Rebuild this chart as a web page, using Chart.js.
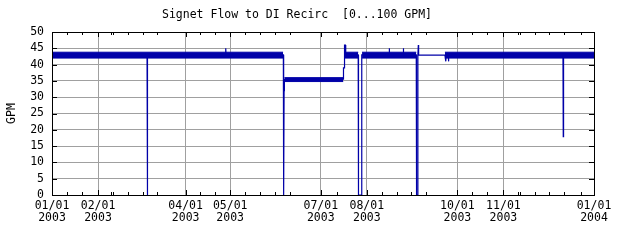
<!DOCTYPE html>
<html>
<head>
<meta charset="UTF-8">
<title>Signet Flow to DI Recirc</title>
<script src="https://cdn.jsdelivr.net/npm/chart.js"></script>
<style>
  html, body { margin: 0; padding: 0; background: #fff; }
  #wrap { width: 640px; height: 240px; }
</style>
</head>
<body>
<div id="wrap"><canvas id="flowChart" width="640" height="240"></canvas></div>
<script>
// x axis is "days since 01/01/2003"
const xMajor = [0, 31, 90, 120, 181, 212, 273, 304, 365];
const xLabels = [['01/01', '2003'], ['02/01', '2003'], ['04/01', '2003'], ['05/01', '2003'],
                 ['07/01', '2003'], ['08/01', '2003'], ['10/01', '2003'], ['11/01', '2003'], ['01/01', '2004']];
const xMinor = [10, 20, 40, 41, 51, 61, 71, 100, 110, 130, 140, 150, 160, 192, 222, 232, 242, 252,
                283, 293, 314, 315, 325, 335, 345, 356];
const yTicks = [0, 5, 10, 15, 20, 25, 30, 35, 40, 45, 50];

// noisy bands of the flow reading (low / high edge of each stretch)
const bandStart = [0, 156.5, 197.3, 208.8, 264.6];
const bandEnd   = [155.6, 196.1, 206.2, 245.3, 365];
const bandLow   = [42, 34.8, 42, 42, 42];
const bandHigh  = [43.8, 36, 43.8, 43.8, 43.8];

// single trace: drops, spikes and steps
const lineDays = [0, 64.0, 64.2, 64.4, 116.9, 117.0, 117.2, 155.8, 156.0, 156.3, 156.5, 196.1, 196.3, 196.9, 197.0, 197.6,
                  197.8, 206.2, 206.4, 208.4, 208.6, 227.0, 227.1, 227.3, 236.5, 236.6, 236.8, 245.3, 245.5, 246.1, 246.4,
                  246.7, 246.9, 264.6, 265.2, 265.4, 266.8, 267.0, 267.2, 344.1, 344.3, 344.5, 365];
const lineFlow = [43, 43, 0, 43, 43, 45, 43, 43, 0, 32, 35.5, 35.5, 39, 39, 46, 46,
                  43, 43, 0, 0, 43, 43, 45, 43, 43, 45, 43, 43, 0, 0, 43,
                  46, 42.9, 42.9, 41, 43, 43, 41, 43, 43, 17.9, 43, 43];

const blue = '#0000a8';
const monoFont = 'DejaVu Sans Mono';

const datasets = [];
bandStart.forEach((s, i) => {
    datasets.push({
        data: [{x: s, y: bandHigh[i]}, {x: bandEnd[i], y: bandHigh[i]}],
        borderColor: blue, backgroundColor: blue, borderWidth: 1, pointRadius: 0, fill: '+1'
    });
    datasets.push({
        data: [{x: s, y: bandLow[i]}, {x: bandEnd[i], y: bandLow[i]}],
        borderColor: blue, backgroundColor: blue, borderWidth: 1, pointRadius: 0, fill: false
    });
});
datasets.push({
    data: lineDays.map((d, i) => ({x: d, y: lineFlow[i]})),
    borderColor: blue, borderWidth: 1.2, pointRadius: 0, fill: false, tension: 0
});

// frame box + inward ticks like the original plot
const framePlugin = {
    id: 'frame',
    afterDatasetsDraw(chart) {
        const {ctx, chartArea: a, scales: {x, y}} = chart;
        ctx.save();
        ctx.strokeStyle = '#000';
        ctx.lineWidth = 1;
        ctx.beginPath();
        yTicks.forEach(v => {
            const p = Math.round(y.getPixelForValue(v)) + 0.5;
            ctx.moveTo(a.left, p); ctx.lineTo(a.left + 5, p);
            ctx.moveTo(a.right, p); ctx.lineTo(a.right - 5, p);
        });
        xMajor.forEach(v => {
            const p = Math.round(x.getPixelForValue(v)) + 0.5;
            ctx.moveTo(p, a.top); ctx.lineTo(p, a.top + 5);
            ctx.moveTo(p, a.bottom); ctx.lineTo(p, a.bottom - 5);
        });
        xMinor.forEach(v => {
            const p = Math.round(x.getPixelForValue(v)) + 0.5;
            ctx.moveTo(p, a.top); ctx.lineTo(p, a.top + 3);
            ctx.moveTo(p, a.bottom); ctx.lineTo(p, a.bottom - 3);
        });
        ctx.stroke();
        ctx.strokeRect(Math.round(a.left) + 0.5, Math.round(a.top) + 0.5,
                       Math.round(a.right - a.left), Math.round(a.bottom - a.top));
        ctx.restore();
    }
};

new Chart(document.getElementById('flowChart'), {
    type: 'line',
    data: {datasets},
    options: {
        responsive: false,
        animation: false,
        layout: {padding: {left: 0, right: 46, top: 0, bottom: 0}},
        scales: {
            x: {
                type: 'linear', min: 0, max: 365,
                afterBuildTicks: s => { s.ticks = xMajor.map(v => ({value: v})); },
                afterFit: s => { s.height = 45; },
                ticks: {
                    autoSkip: false, maxRotation: 0, padding: 5, color: '#000',
                    font: {family: monoFont, size: 11.5, lineHeight: 1.05},
                    callback: (v, i) => xLabels[i]
                },
                grid: {color: '#a0a0a0', drawTicks: false},
                border: {display: false}
            },
            y: {
                min: 0, max: 50,
                afterBuildTicks: s => { s.ticks = yTicks.map(v => ({value: v})); },
                afterFit: s => { s.width = 52; },
                ticks: {autoSkip: false, stepSize: 5, padding: 8, color: '#000',
                        font: {family: monoFont, size: 11.5}},
                grid: {color: '#a0a0a0', drawTicks: false},
                border: {display: false},
                title: {display: true, text: 'GPM', color: '#000', padding: {top: 5, bottom: 0},
                        font: {family: monoFont, size: 11.5, lineHeight: 1.2}}
            }
        },
        plugins: {
            legend: {display: false},
            tooltip: {enabled: false},
            title: {
                display: true,
                text: 'Signet Flow to DI Recirc  [0...100 GPM]',
                color: '#000',
                font: {family: monoFont, size: 11.5, weight: 'normal', lineHeight: 1.2},
                padding: {top: 8, bottom: 10.2}
            }
        }
    },
    plugins: [framePlugin]
});
</script>
</body>
</html>
